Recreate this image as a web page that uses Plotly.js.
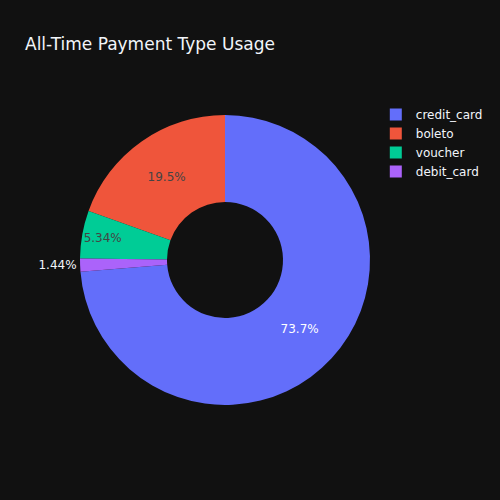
<!DOCTYPE html>
<html><head><meta charset="utf-8">
<script src="https://cdn.plot.ly/plotly-3.0.1.min.js"></script>
<style>html,body{margin:0;padding:0;background:#111111;}</style>
</head><body>
<div id="chart" style="width:500px;height:500px;"></div>
<script>
const labels = ["credit_card", "boleto", "voucher", "debit_card"];
const shares = [73.7, 19.5, 5.34, 1.44];
const colors = ["#636efa", "#EF553B", "#00cc96", "#ab63fa"];

Plotly.newPlot("chart", [{
  type: "pie",
  labels: labels,
  values: shares,
  hole: 0.4,
  sort: true,
  direction: "counterclockwise",
  automargin: true,
  marker: {colors: colors},
  textinfo: "percent"
}], {
  width: 500, height: 500,
  paper_bgcolor: "rgb(17,17,17)",
  plot_bgcolor: "rgb(17,17,17)",
  font: {color: "#f2f5fa", family: '"DejaVu Sans", verdana, arial, sans-serif'},
  title: {text: "All-Time Payment Type Usage", x: 0.05},
  legend: {font: {color: "#f2f5fa"}}
}, {displayModeBar: false});
</script>
</body></html>
